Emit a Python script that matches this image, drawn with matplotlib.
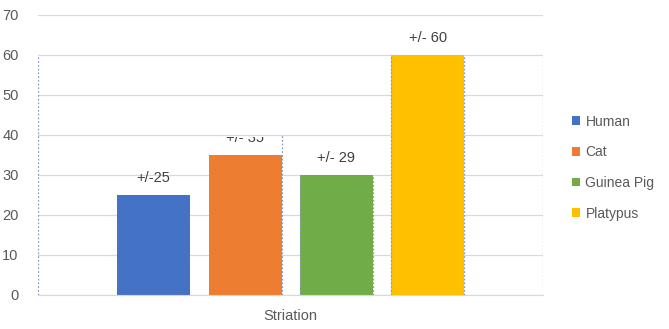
import numpy as np
import matplotlib
matplotlib.use("Agg")
from matplotlib import pyplot as plt
from matplotlib.patches import Rectangle

# values
animals = ['Human', 'Cat', 'Guinea Pig', 'Platypus']
striation = [25, 35, 30, 60]
labels = ['+/-25', '+/- 35', '+/- 29', '+/- 60']
colors = ['#4472C4', '#ED7D31', '#70AD47', '#FFC000']
category = 'Striation'
yticks = [0, 10, 20, 30, 40, 50, 60, 70]

plt.rcParams['font.family'] = ['Liberation Sans', 'DejaVu Sans']
grey = '#595959'

fig = plt.figure(figsize=(6.69, 3.29), dpi=100)
ax = fig.add_axes([38/669, 1-295/329, (543-38)/669, 280/329])

width = 0.1446
offsets = np.array([-0.271, -0.090, 0.091, 0.272])
bars = []
for i in range(len(animals)):
    b = ax.bar(offsets[i], striation[i], width, color=colors[i], label=animals[i], zorder=2)
    bars.append(b[0])

# value labels
for i, b in enumerate(bars):
    t = ax.annotate(labels[i], (b.get_x() + b.get_width()/2, b.get_height()),
                    xytext=(0, 12), textcoords='offset points',
                    ha='center', va='center', fontsize=10.5, color='#404040', zorder=4)
    if i == 1:
        # top of this label is cut by the box above it
        clip = Rectangle((-0.5, 0), 1.0, 39.6, transform=ax.transData)
        t.set_clip_path(clip)

# dotted outlines
dot = dict(color='#8C9DBF', lw=0.9, ls=(0, (1.5, 1.5)), zorder=3)
edges = [(-0.5, 60), (0.5, 60),
         (offsets[1] + width/2, 40),
         (offsets[2] - width/2, 30), (offsets[2] + width/2, 30),
         (offsets[3] - width/2, 60), (offsets[3] + width/2, 60)]
for x, top in edges:
    ax.plot([x, x], [0, top], **dot)

ax.set_xlim(-0.5, 0.5)
ax.set_ylim(0, 70)
ax.set_yticks(yticks)
ax.set_xticks([0])
ax.set_xticklabels([category])
ax.yaxis.grid(True, color='#D9D9D9', lw=0.9, zorder=0)
ax.set_axisbelow(True)
for s in ['top', 'right', 'left']:
    ax.spines[s].set_visible(False)
ax.spines['bottom'].set_color('#D9D9D9')
ax.tick_params(length=0, colors=grey, labelsize=10.5)
ax.tick_params(axis='y', pad=14)
ax.tick_params(axis='x', pad=10)

leg = ax.legend(loc='upper left', bbox_to_anchor=(566/669, 1-109/329), bbox_transform=fig.transFigure,
                frameon=False, handlelength=0.6, handleheight=0.6, handletextpad=0.4,
                labelspacing=1.2, fontsize=10, labelcolor=grey, borderaxespad=0)

fig.savefig('out.png', dpi=100)
